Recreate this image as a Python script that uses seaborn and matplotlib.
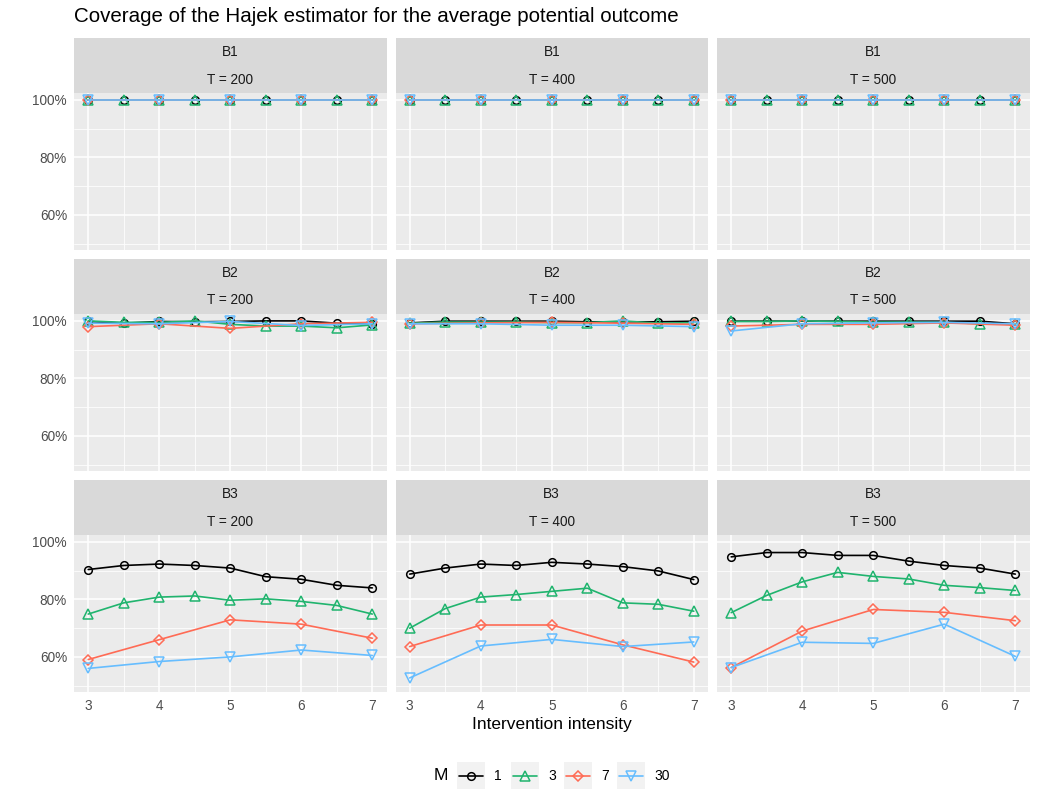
import matplotlib
matplotlib.use("Agg")
import pandas as pd
import matplotlib.pyplot as plt
import seaborn as sns
from matplotlib.patches import Rectangle
from matplotlib.ticker import FixedLocator, PercentFormatter

blocks = ["B1", "B2", "B3"]
t_values = [200, 400, 500]
m_values = ["1", "3", "7", "30"]
x_fine = [3, 3.5, 4, 4.5, 5, 5.5, 6, 6.5, 7]
x_coarse = [3, 4, 5, 6, 7]

# coverage in percent, [block][T]
cov_m1 = [
    [[100, 100, 100, 100, 100, 100, 100, 100, 100],
     [100, 100, 100, 100, 100, 100, 100, 100, 100],
     [100, 100, 100, 100, 100, 100, 100, 100, 100]],
    [[99.8, 99.2, 99.8, 99.7, 99.8, 100, 100, 99.2, 99.0],
     [99.3, 99.9, 99.9, 99.9, 99.9, 99.7, 99.7, 99.7, 99.9],
     [99.9, 99.9, 99.9, 99.9, 99.9, 99.9, 99.9, 99.9, 99.0]],
    [[90.4, 91.8, 92.3, 91.8, 90.9, 87.9, 87.0, 84.9, 84.0],
     [88.8, 90.9, 92.3, 91.8, 92.9, 92.3, 91.4, 89.9, 86.9],
     [94.8, 96.3, 96.3, 95.3, 95.3, 93.3, 91.8, 90.9, 88.8]],
]
cov_m3 = [
    [[100, 100, 100, 100, 100, 100, 100, 100, 100],
     [100, 100, 100, 100, 100, 100, 100, 100, 100],
     [100, 100, 100, 100, 100, 100, 100, 100, 100]],
    [[100, 99.5, 99.5, 100, 98.8, 98.2, 98.2, 97.6, 98.6],
     [99.2, 99.6, 99.6, 99.6, 99.4, 99.4, 100, 99.2, 99.4],
     [99.8, 99.8, 100, 99.8, 99.6, 99.6, 99.5, 99.0, 98.8]],
    [[74.9, 78.8, 80.8, 81.2, 79.7, 80.2, 79.3, 77.9, 74.9],
     [70.0, 76.8, 80.8, 81.7, 82.8, 83.9, 78.8, 78.3, 75.9],
     [75.4, 81.4, 86.1, 89.4, 88.0, 87.1, 84.9, 84.1, 83.1]],
]
cov_m7 = [
    [[100, 100, 100, 100, 100],
     [100, 100, 100, 100, 100],
     [100, 100, 100, 100, 100]],
    [[98.0, 99.0, 97.4, 99.0, 99.5],
     [99.0, 99.3, 99.5, 99.2, 98.8],
     [98.2, 98.8, 98.8, 99.3, 98.5]],
    [[59.1, 66.0, 72.9, 71.4, 66.5],
     [63.6, 71.1, 71.1, 64.2, 58.2],
     [56.3, 69.0, 76.5, 75.5, 72.6]],
]
cov_m30 = [
    [[100, 100, 100, 100, 100],
     [100, 100, 100, 100, 100],
     [100, 100, 100, 100, 100]],
    [[99.2, 99.0, 99.8, 98.4, 99.0],
     [99.0, 99.0, 98.5, 98.5, 98.0],
     [96.5, 99.0, 99.3, 99.5, 99.0]],
    [[56.0, 58.4, 60.0, 62.4, 60.5],
     [52.7, 63.8, 66.1, 63.6, 65.2],
     [56.3, 65.1, 64.7, 71.4, 60.2]],
]

palette = {"1": "#000000", "3": "#20B46E", "7": "#FF6B55", "30": "#66BDFF"}
markers = {"1": "o", "3": "^", "7": "D", "30": "v"}
marker_sizes = {"1": 5.5, "3": 7.2, "7": 5.2, "30": 7.2}

rows = []
for m, cov, xs in zip(m_values, [cov_m1, cov_m3, cov_m7, cov_m30],
                      [x_fine, x_fine, x_coarse, x_coarse]):
    for i, b in enumerate(blocks):
        for j, t in enumerate(t_values):
            for x, y in zip(xs, cov[i][j]):
                rows.append({"block": b, "T": t, "M": m, "intensity": x, "coverage": y})
df = pd.DataFrame(rows)

sns.set_theme(style="white")
plt.rcParams["font.family"] = ["Liberation Sans", "DejaVu Sans"]

W, H = 1038, 807
fig = plt.figure(figsize=(W / 100, H / 100), dpi=100)

col_left = [74, 395.5, 717]
row_top = [93, 314, 535]
pw, ph = 312.5, 157
strip_h = 55

for i, b in enumerate(blocks):
    for j, t in enumerate(t_values):
        ax = fig.add_axes([col_left[j] / W, 1 - (row_top[i] + ph) / H, pw / W, ph / H])
        sub = df[(df["block"] == b) & (df["T"] == t)]
        sns.lineplot(data=sub, x="intensity", y="coverage", hue="M", style="M",
                     hue_order=m_values, style_order=m_values, palette=palette,
                     markers=markers, dashes=False, linewidth=1.2, legend=False, ax=ax)
        for line, m in zip(ax.lines, m_values):
            c = line.get_color()
            line.set_markerfacecolor("none")
            line.set_markeredgecolor(c)
            line.set_markeredgewidth(1.1)
            line.set_markersize(marker_sizes[m])

        ax.set_facecolor("#EBEBEB")
        for s in ax.spines.values():
            s.set_visible(False)
        ax.set_xlim(2.8, 7.2)
        ax.set_ylim(47.8, 102.4)
        ax.xaxis.set_major_locator(FixedLocator(x_coarse))
        ax.xaxis.set_minor_locator(FixedLocator([3.5, 4.5, 5.5, 6.5]))
        ax.yaxis.set_major_locator(FixedLocator([60, 80, 100]))
        ax.yaxis.set_minor_locator(FixedLocator([50, 70, 90]))
        ax.yaxis.set_major_formatter(PercentFormatter(decimals=0))
        ax.grid(which="major", color="white", linewidth=1.1)
        ax.grid(which="minor", color="white", linewidth=0.55)
        ax.set_axisbelow(True)
        ax.set_xlabel("")
        ax.set_ylabel("")
        ax.tick_params(which="major", length=3, width=0.8, color="#333333",
                       labelcolor="#4D4D4D", labelsize=9.8, pad=2)
        ax.tick_params(which="minor", length=0)
        if j > 0:
            ax.tick_params(axis="y", which="major", length=0, labelleft=False)
        if i < 2:
            ax.tick_params(axis="x", which="major", length=0, labelbottom=False)

        ax.add_patch(Rectangle((0, 1), 1, strip_h / ph, transform=ax.transAxes,
                               facecolor="#D9D9D9", edgecolor="none", clip_on=False))
        ax.text(0.5, 1 + 41 / ph, b, transform=ax.transAxes, ha="center", va="center",
                fontsize=9.8, color="#1A1A1A")
        ax.text(0.5, 1 + 13.5 / ph, f"T = {t}", transform=ax.transAxes, ha="center",
                va="center", fontsize=9.8, color="#1A1A1A")

fig.text(74 / W, 1 - 16 / H, "Coverage of the Hajek estimator for the average potential outcome",
         ha="left", va="center", fontsize=14.8, color="black")
fig.text((74 + 1029) / 2 / W, 1 - 724 / H, "Intervention intensity",
         ha="center", va="center", fontsize=12.5, color="black")

# legend drawn in pixel coordinates
lx0, lx1, ly0, ly1 = 425, 690, 752, 798
ax_leg = fig.add_axes([lx0 / W, 1 - ly1 / H, (lx1 - lx0) / W, (ly1 - ly0) / H])
ax_leg.set_xlim(lx0, lx1)
ax_leg.set_ylim(ly1, ly0)
ax_leg.axis("off")
ax_leg.text(434, 775.5, "M", ha="left", va="center", fontsize=12.5, color="black")
key_x = [457, 511, 564, 617]
for kx, m in zip(key_x, m_values):
    ax_leg.add_patch(Rectangle((kx, 762), 28, 27, facecolor="#F2F2F2", edgecolor="none"))
    ax_leg.plot([kx + 2, kx + 26], [775.5, 775.5], color=palette[m], linewidth=1.2)
    ax_leg.plot([kx + 14], [775.5], marker=markers[m], markersize=marker_sizes[m],
                markerfacecolor="none", markeredgecolor=palette[m], markeredgewidth=1.1)
    ax_leg.text(kx + 37, 775.5, m, ha="left", va="center", fontsize=10, color="black")

fig.savefig("out.png", dpi=100, facecolor="white")
